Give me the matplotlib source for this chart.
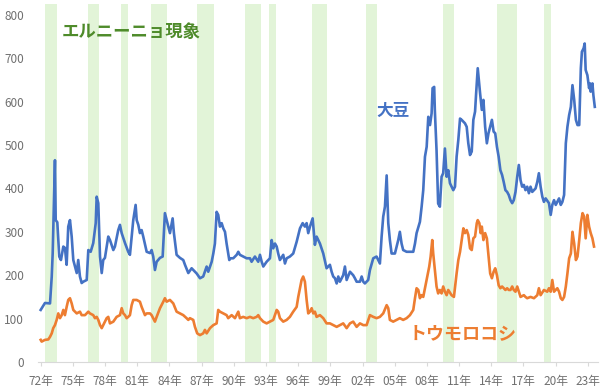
import matplotlib
matplotlib.use("Agg")
import matplotlib.pyplot as plt

plt.rcParams['font.family'] = ['Noto Sans CJK JP', 'DejaVu Sans']

# El Nino periods (decimal years)
elnino_start = [1972.40, 1976.44, 1979.46, 1982.25, 1986.54, 1991.04,
                1993.25, 1997.26, 2002.32, 2009.52, 2014.50, 2018.91]
elnino_end = [1973.55, 1977.43, 1980.11, 1983.74, 1988.15, 1992.50,
              1993.93, 1998.65, 2003.31, 2010.52, 2016.36, 2019.53]

# soybean price (decimal year, value)
soy_t = [1972.00, 1972.40, 1972.87, 1973.03, 1973.12, 1973.33, 1973.40, 1973.55,
         1973.73, 1973.89, 1974.11, 1974.26, 1974.42, 1974.57, 1974.73, 1974.89,
         1975.04, 1975.36, 1975.50, 1975.66, 1975.82, 1975.97, 1976.29, 1976.44,
         1976.66, 1976.90, 1977.13, 1977.22, 1977.37, 1977.53, 1977.69, 1977.83,
         1977.99, 1978.30, 1978.46, 1978.77, 1978.92, 1979.23, 1979.39, 1979.55,
         1979.86, 1980.16, 1980.32, 1980.48, 1980.63, 1980.85, 1980.95, 1981.10,
         1981.25, 1981.41, 1981.56, 1981.88, 1982.19, 1982.34, 1982.49, 1982.65,
         1982.81, 1983.12, 1983.37, 1983.58, 1983.74, 1984.05, 1984.30, 1984.42,
         1984.67, 1984.98, 1985.29, 1985.45, 1985.76, 1986.07, 1986.54, 1986.85,
         1987.15, 1987.47, 1987.62, 1987.94, 1988.09, 1988.24, 1988.40, 1988.55,
         1988.71, 1988.87, 1989.02, 1989.18, 1989.33, 1989.58, 1989.71, 1989.95,
         1990.27, 1990.42, 1990.57, 1990.88, 1991.20, 1991.51, 1991.66, 1991.97,
         1992.28, 1992.44, 1992.60, 1992.75, 1993.06, 1993.37, 1993.53, 1993.68,
         1993.84, 1994.00, 1994.14, 1994.30, 1994.61, 1994.77, 1994.93, 1995.23,
         1995.54, 1995.86, 1996.17, 1996.42, 1996.63, 1996.79, 1996.94, 1997.10,
         1997.35, 1997.56, 1997.72, 1997.87, 1998.03, 1998.34, 1998.65, 1998.96,
         1999.12, 1999.27, 1999.43, 1999.59, 1999.74, 1999.89, 2000.20, 2000.36,
         2000.52, 2000.83, 2001.13, 2001.29, 2001.45, 2001.76, 2001.92, 2002.07,
         2002.22, 2002.53, 2002.69, 2003.00, 2003.31, 2003.62, 2003.78, 2003.93,
         2004.09, 2004.25, 2004.40, 2004.55, 2004.71, 2005.02, 2005.33, 2005.48,
         2005.64, 2005.79, 2006.11, 2006.42, 2006.73, 2006.89, 2007.04, 2007.35,
         2007.51, 2007.66, 2007.82, 2007.98, 2008.13, 2008.29, 2008.44, 2008.53,
         2008.68, 2008.74, 2008.90, 2009.05, 2009.21, 2009.37, 2009.52, 2009.68,
         2009.84, 2009.99, 2010.15, 2010.46, 2010.62, 2010.77, 2010.93, 2011.09,
         2011.24, 2011.55, 2011.71, 2011.86, 2012.02, 2012.18, 2012.33, 2012.49,
         2012.59, 2012.74, 2012.96, 2013.12, 2013.27, 2013.43, 2013.59, 2013.74,
         2013.90, 2014.06, 2014.22, 2014.37, 2014.53, 2014.69, 2014.85, 2015.01,
         2015.16, 2015.32, 2015.48, 2015.63, 2015.79, 2015.95, 2016.10, 2016.26,
         2016.42, 2016.57, 2016.73, 2016.88, 2017.04, 2017.19, 2017.35, 2017.51,
         2017.66, 2017.82, 2017.98, 2018.13, 2018.29, 2018.44, 2018.60, 2018.76,
         2018.91, 2019.07, 2019.38, 2019.54, 2019.69, 2019.85, 2020.01, 2020.16,
         2020.32, 2020.48, 2020.63, 2020.79, 2020.95, 2021.10, 2021.26, 2021.42,
         2021.57, 2021.73, 2021.89, 2022.04, 2022.20, 2022.35, 2022.45, 2022.61,
         2022.71, 2022.80, 2022.96, 2023.12, 2023.21, 2023.27, 2023.43, 2023.52,
         2023.65]
soy_v = [120, 136, 135, 197, 251, 465, 327, 322,
         243, 235, 266, 263, 224, 312, 327, 289,
         235, 205, 235, 197, 182, 185, 189, 258,
         254, 274, 320, 381, 366, 243, 205, 235,
         240, 289, 281, 258, 266, 304, 316, 297,
         274, 254, 247, 289, 327, 362, 327, 316,
         297, 304, 289, 254, 251, 258, 243, 212,
         231, 240, 243, 343, 327, 297, 331, 297,
         247, 240, 235, 224, 205, 216, 204, 193,
         197, 220, 208, 231, 250, 273, 346, 339,
         312, 320, 308, 300, 273, 235, 239, 239,
         247, 254, 247, 243, 239, 239, 231, 243,
         231, 247, 231, 220, 231, 239, 281, 262,
         273, 266, 250, 235, 247, 227, 239, 243,
         250, 277, 308, 320, 312, 320, 297, 312,
         331, 270, 289, 281, 273, 250, 216, 224,
         208, 197, 193, 181, 197, 185, 200, 220,
         189, 208, 200, 193, 185, 185, 197, 185,
         181, 189, 212, 239, 243, 227, 289, 335,
         358, 430, 320, 281, 250, 250, 281, 300,
         273, 258, 254, 254, 254, 273, 297, 323,
         358, 396, 473, 496, 565, 546, 573, 631,
         634, 581, 488, 365, 358, 427, 435, 492,
         427, 442, 412, 396, 404, 473, 512, 561,
         558, 550, 542, 504, 477, 485, 558, 577,
         619, 677, 619, 581, 604, 542, 504, 527,
         542, 558, 531, 527, 496, 473, 442, 431,
         415, 396, 392, 385, 373, 366, 373, 392,
         427, 454, 419, 404, 408, 396, 404, 389,
         404, 392, 396, 400, 415, 435, 404, 381,
         369, 377, 366, 339, 362, 373, 362, 369,
         377, 362, 369, 385, 504, 542, 569, 588,
         638, 604, 558, 546, 546, 677, 715, 723,
         734, 673, 661, 631, 642, 623, 642, 615,
         588]

# corn price (decimal year, value)
corn_t = [1972.00, 1972.09, 1972.40, 1972.71, 1972.87, 1973.03, 1973.17, 1973.33,
          1973.49, 1973.64, 1973.80, 1973.96, 1974.11, 1974.26, 1974.42, 1974.57,
          1974.73, 1974.89, 1975.04, 1975.36, 1975.66, 1975.82, 1976.13, 1976.44,
          1976.59, 1976.90, 1977.06, 1977.22, 1977.37, 1977.53, 1977.69, 1977.83,
          1977.99, 1978.15, 1978.30, 1978.46, 1978.77, 1979.08, 1979.39, 1979.55,
          1979.70, 1979.86, 1980.01, 1980.16, 1980.32, 1980.48, 1980.63, 1980.95,
          1981.25, 1981.41, 1981.72, 1981.88, 1982.19, 1982.34, 1982.65, 1982.81,
          1983.12, 1983.43, 1983.58, 1983.74, 1984.05, 1984.36, 1984.67, 1984.98,
          1985.29, 1985.60, 1985.76, 1985.91, 1986.22, 1986.38, 1986.59, 1986.85,
          1987.15, 1987.31, 1987.47, 1987.78, 1988.09, 1988.40, 1988.55, 1988.71,
          1989.02, 1989.33, 1989.48, 1989.80, 1990.11, 1990.42, 1990.57, 1990.88,
          1991.20, 1991.51, 1991.81, 1992.13, 1992.28, 1992.44, 1992.75, 1993.06,
          1993.37, 1993.68, 1994.00, 1994.14, 1994.30, 1994.61, 1994.93, 1995.23,
          1995.54, 1995.86, 1996.01, 1996.32, 1996.47, 1996.63, 1996.79, 1996.94,
          1997.10, 1997.26, 1997.41, 1997.56, 1997.72, 1998.03, 1998.34, 1998.65,
          1998.96, 1999.27, 1999.59, 1999.89, 2000.20, 2000.52, 2000.83, 2001.13,
          2001.45, 2001.76, 2002.07, 2002.38, 2002.69, 2003.00, 2003.31, 2003.62,
          2003.93, 2004.25, 2004.40, 2004.55, 2004.86, 2005.18, 2005.48, 2005.79,
          2006.11, 2006.42, 2006.73, 2006.89, 2007.04, 2007.20, 2007.35, 2007.51,
          2007.66, 2007.82, 2007.98, 2008.22, 2008.35, 2008.50, 2008.59, 2008.75,
          2008.90, 2009.05, 2009.21, 2009.37, 2009.52, 2009.68, 2009.84, 2009.99,
          2010.30, 2010.52, 2010.77, 2010.93, 2011.09, 2011.24, 2011.40, 2011.55,
          2011.71, 2011.86, 2012.02, 2012.18, 2012.33, 2012.49, 2012.65, 2012.74,
          2012.89, 2013.01, 2013.12, 2013.27, 2013.43, 2013.59, 2013.74, 2013.90,
          2014.06, 2014.22, 2014.37, 2014.53, 2014.69, 2014.85, 2015.01, 2015.16,
          2015.32, 2015.48, 2015.63, 2015.79, 2015.95, 2016.10, 2016.26, 2016.42,
          2016.57, 2016.73, 2017.04, 2017.19, 2017.35, 2017.66, 2017.98, 2018.29,
          2018.44, 2018.60, 2018.91, 2019.22, 2019.38, 2019.54, 2019.69, 2019.85,
          2020.01, 2020.16, 2020.32, 2020.48, 2020.63, 2020.79, 2020.95, 2021.10,
          2021.26, 2021.42, 2021.57, 2021.73, 2021.89, 2022.04, 2022.20, 2022.35,
          2022.51, 2022.66, 2022.80, 2022.96, 2023.12, 2023.27, 2023.43, 2023.58]
corn_v = [51, 47, 51, 52, 58, 66, 78, 85,
          97, 112, 101, 108, 120, 108, 127, 143,
          147, 135, 120, 112, 116, 108, 108, 116,
          112, 108, 101, 104, 97, 85, 78, 85,
          93, 101, 104, 89, 93, 104, 108, 124,
          112, 108, 101, 104, 108, 131, 143, 143,
          139, 127, 108, 112, 112, 108, 93, 104,
          124, 139, 147, 139, 143, 135, 116, 112,
          108, 101, 97, 101, 97, 81, 66, 62,
          66, 74, 66, 78, 85, 89, 120, 116,
          112, 108, 101, 108, 101, 116, 101, 104,
          101, 104, 101, 104, 108, 101, 93, 89,
          93, 97, 120, 116, 101, 93, 97, 104,
          116, 127, 150, 189, 197, 185, 143, 112,
          116, 124, 112, 116, 104, 108, 101, 89,
          89, 85, 81, 85, 89, 78, 89, 93,
          81, 89, 85, 85, 108, 104, 101, 104,
          112, 131, 124, 97, 93, 97, 101, 97,
          101, 108, 120, 147, 170, 166, 147, 154,
          150, 170, 189, 220, 243, 281, 250, 212,
          174, 158, 166, 158, 174, 162, 154, 166,
          154, 150, 204, 235, 254, 281, 308, 297,
          304, 293, 262, 258, 285, 289, 320, 327,
          320, 297, 312, 281, 297, 285, 247, 204,
          193, 208, 216, 200, 177, 170, 174, 170,
          166, 170, 166, 166, 174, 166, 162, 174,
          162, 150, 154, 150, 147, 150, 147, 154,
          170, 154, 166, 162, 170, 162, 189, 162,
          166, 170, 162, 147, 143, 150, 174, 204,
          239, 250, 300, 273, 235, 243, 281, 320,
          343, 335, 285, 339, 312, 297, 285, 266]

tick_years = list(range(1972, 2024, 3))
tick_labels = ['72年', '75年', '78年', '81年', '84年', '87年', '90年', '93年', '96年',
               '99年', '02年', '05年', '08年', '11年', '14年', '17年', '20年', '23年']
y_ticks = [0, 100, 200, 300, 400, 500, 600, 700, 800]

fig = plt.figure(figsize=(6.0, 3.92), dpi=100)
ax = fig.add_axes([38 / 600, 30 / 392, 560 / 600, 358 / 392])

for s, e in zip(elnino_start, elnino_end):
    ax.axvspan(s, e, color='#e2f4d8', lw=0, zorder=0)

ax.plot(corn_t, corn_v, color='#ed7d31', lw=1.9, zorder=3, solid_joinstyle='round')
ax.plot(soy_t, soy_v, color='#4472c4', lw=1.9, zorder=3, solid_joinstyle='round')

ax.set_xlim(1971.75, 2023.95)
ax.set_ylim(0, 825)
ax.set_xticks(tick_years)
ax.set_xticklabels(tick_labels)
ax.set_yticks(y_ticks)

for side in ['top', 'right', 'left']:
    ax.spines[side].set_visible(False)
ax.spines['bottom'].set_color('#d9d9d9')
ax.tick_params(axis='x', colors='#d9d9d9', length=3, pad=6, labelcolor='#707070', labelsize=8.5)
ax.tick_params(axis='y', length=0, pad=10, labelcolor='#707070', labelsize=8.5)

ax.text(1974.0, 760, 'エルニーニョ現象', color='#4e8b2a', fontsize=12.5,
        fontweight='bold', va='center', ha='left')
ax.text(2003.3, 578, '大豆', color='#4472c4', fontsize=12,
        fontweight='bold', va='center', ha='left')
ax.text(2006.3, 65, 'トウモロコシ', color='#ed7d31', fontsize=13,
        fontweight='bold', va='center', ha='left')

fig.savefig('out.png', dpi=100)
